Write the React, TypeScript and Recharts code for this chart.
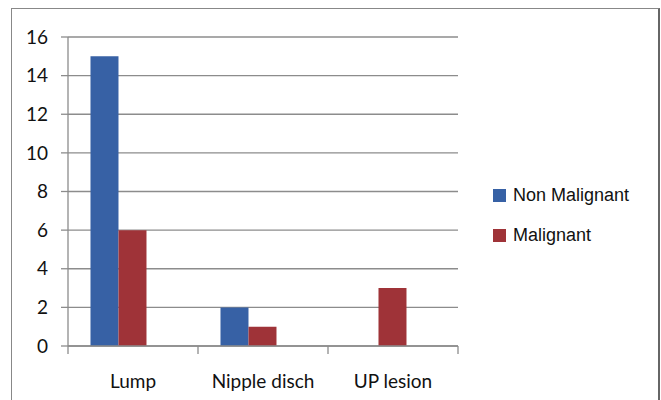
import React from 'react';
import { BarChart, Bar, XAxis, YAxis, CartesianGrid, Legend } from 'recharts';

const categories = ['Lump', 'Nipple disch', 'UP lesion'];
const nonMalignant = [15, 2, 0];
const malignant = [6, 1, 3];
const yTicks = [0, 2, 4, 6, 8, 10, 12, 14, 16];
const seriesNames = ['Non Malignant', 'Malignant'];

const data = categories.map((name, i) => ({
  name,
  nonMalignant: nonMalignant[i],
  malignant: malignant[i],
}));

const gridColor = '#8c8c8c';

// x ticks in the original sit on the category borders, labels in the middle
const CategoryTick = (props: any) => {
  const { x, y, payload, index, visibleTicksCount } = props;
  const half = payload && payload.offset ? payload.offset : 65;
  const last = index === (visibleTicksCount ?? categories.length) - 1;
  return (
    <g>
      <line x1={x - half} x2={x - half} y1={y} y2={y + 8} stroke={gridColor} strokeWidth={1.3} />
      {last && <line x1={x + half} x2={x + half} y1={y} y2={y + 8} stroke={gridColor} strokeWidth={1.3} />}
      <text x={x} y={y + 42} textAnchor="middle" fill="#111" fontSize={19} fontFamily="Lato, sans-serif">
        {payload.value}
      </text>
    </g>
  );
};

const renderLegend = ({ payload }: any) => {
  const items = (payload || [])
    .filter((p: any) => seriesNames.includes(p.value))
    .sort((a: any, b: any) => seriesNames.indexOf(a.value) - seriesNames.indexOf(b.value));
  return (
    <div style={{ fontFamily: '"Liberation Sans", Arial, sans-serif', fontSize: 18, color: '#111' }}>
      {items.map((p: any) => (
        <div key={p.value} style={{ display: 'flex', alignItems: 'center', height: 40 }}>
          <span style={{ display: 'inline-block', width: 13, height: 13, background: p.color, marginRight: 7 }} />
          <span>{p.value}</span>
        </div>
      ))}
    </div>
  );
};

export default function App() {
  return (
    <div style={{ position: 'absolute', left: 0, top: 0, width: 661, height: 400, overflow: 'hidden', background: '#fff' }}>
      <div
        style={{
          position: 'absolute',
          left: 11,
          top: 8,
          width: 646,
          height: 420,
          borderTop: '1.5px solid #888',
          borderLeft: '1.5px solid #888',
          borderRight: '2px solid #666',
        }}
      />
      <div style={{ position: 'absolute', left: 0, top: 0 }}>
        <BarChart
          width={661}
          height={400}
          data={data}
          margin={{ top: 37, right: 203, bottom: 0, left: 0 }}
          barCategoryGap="17.3%"
          barGap={0}
        >
          <CartesianGrid horizontal vertical={false} stroke={gridColor} strokeWidth={1.3} />
          <XAxis
            dataKey="name"
            height={54}
            stroke={gridColor}
            strokeWidth={1.3}
            tickLine={false}
            tickSize={0}
            tickMargin={0}
            tick={<CategoryTick />}
            interval={0}
          />
          <YAxis
            width={68}
            domain={[0, 16]}
            ticks={yTicks}
            interval={0}
            stroke={gridColor}
            strokeWidth={1.3}
            tickSize={7}
            tickMargin={13}
            tick={{ fill: '#111', fontSize: 19, fontFamily: 'Lato, sans-serif' }}
          />
          <Legend
            layout="vertical"
            align="center"
            verticalAlign="middle"
            content={renderLegend}
            wrapperStyle={{ left: 493, top: 175, width: 168 }}
          />
          <Bar dataKey="nonMalignant" name="Non Malignant" fill="#3761a5" isAnimationActive={false} />
          <Bar dataKey="malignant" name="Malignant" fill="#9f3338" isAnimationActive={false} />
          {/* empty third slot, the original clusters are shifted left as if a blank series sits there */}
          <Bar dataKey="spacer" name="spacer" legendType="none" fill="none" isAnimationActive={false} />
        </BarChart>
      </div>
    </div>
  );
}
